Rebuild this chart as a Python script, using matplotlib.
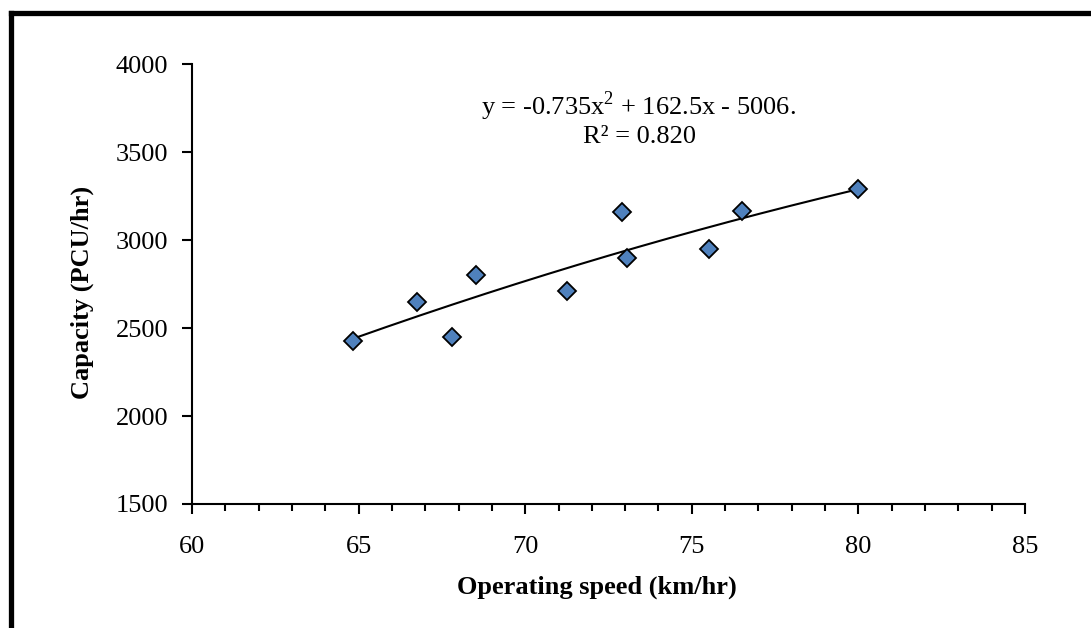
import numpy as np
import matplotlib
matplotlib.use("Agg")
import matplotlib.pyplot as plt
from matplotlib.lines import Line2D

plt.rcParams['font.family'] = ['Liberation Serif', 'DejaVu Serif']
plt.rcParams['mathtext.fontset'] = 'custom'
plt.rcParams['mathtext.rm'] = 'Liberation Serif'

# Observed operating speed (km/hr) and capacity (PCU/hr)
speed = [64.84, 66.75, 67.81, 68.53, 71.26, 72.91, 73.06, 75.52, 76.51, 80.0]
capacity = [2428, 2648, 2448, 2800, 2710, 3160, 2897, 2948, 3165, 3292]

# Second-order trendline coefficients (a*x^2 + b*x + c)
trend_coef = [-0.735, 162.5, -5006.0]
r_squared = 0.820

x_ticks = [60, 65, 70, 75, 80, 85]
y_ticks = [1500, 2000, 2500, 3000, 3500, 4000]

fig = plt.figure(figsize=(10.91, 6.28), dpi=100)
ax = fig.add_axes([0.176, 0.1975, 0.7635, 0.7001])

# trendline over the observed speed range
xs = np.linspace(min(speed), max(speed), 200)
ys = np.polyval(trend_coef, xs)
ax.plot(xs, ys, color='black', lw=1.5, zorder=3)

ax.plot(speed, capacity, linestyle='none', marker='D', markersize=9,
        markerfacecolor='#4F81BD', markeredgecolor='black',
        markeredgewidth=1.3, zorder=4)

ax.set_xlim(60, 85)
ax.set_ylim(1500, 4000)
ax.set_xticks(x_ticks)
ax.set_yticks(y_ticks)
ax.set_xticks(np.arange(60, 86, 1), minor=True)

for side in ['top', 'right']:
    ax.spines[side].set_visible(False)
for side in ['left', 'bottom']:
    ax.spines[side].set_linewidth(1.5)

ax.tick_params(axis='both', which='major', direction='out', length=7,
               width=1.5, labelsize=19)
ax.tick_params(axis='x', which='minor', direction='out', length=5, width=1.5)
ax.tick_params(axis='x', which='major', pad=16)
ax.tick_params(axis='y', which='major', pad=10)

ax.set_xlabel('Operating speed (km/hr)', fontsize=19, fontweight='bold')
ax.set_ylabel('Capacity (PCU/hr)', fontsize=19, fontweight='bold')
ax.xaxis.set_label_coords(0.486, -0.163)
ax.yaxis.set_label_coords(-0.118, 0.48)

a, b, c = trend_coef
eq = f"y = {a:.3f}x$^{{2}}$ + {b:.1f}x - {abs(c):.0f}."
ax.text(68.68, 3712, eq, fontsize=19, ha='left', va='baseline')
ax.text(71.74, 3551, f"R² = {r_squared:.3f}", fontsize=19, ha='left', va='baseline')

# heavy frame along the top and left edges of the figure
fig.add_artist(Line2D([10.5 / 1091, 1.0], [1 - 12.5 / 628, 1 - 12.5 / 628],
                      transform=fig.transFigure, color='black', lw=3.8,
                      solid_capstyle='projecting'))
fig.add_artist(Line2D([11.5 / 1091, 11.5 / 1091], [0.0, 1 - 12.5 / 628],
                      transform=fig.transFigure, color='black', lw=3.8,
                      solid_capstyle='projecting'))

fig.savefig('out.png', dpi=100)
